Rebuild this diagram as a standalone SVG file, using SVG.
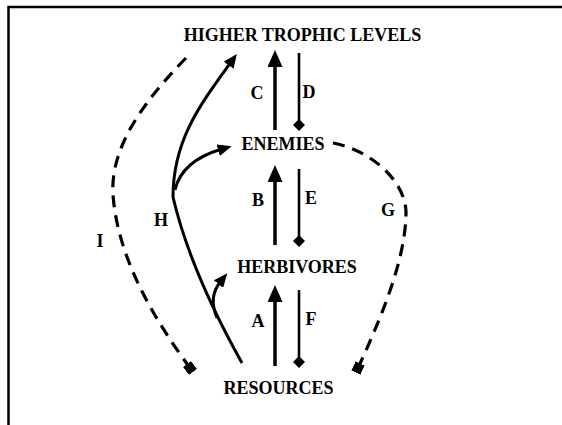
<svg xmlns="http://www.w3.org/2000/svg" width="562" height="425" viewBox="0 0 562 425">
<style>
  text { font-family: "Liberation Serif", "Times New Roman", serif; font-weight: bold; fill: #000; text-anchor: middle; }
  .node { font-size: 18px; }
  .lab { font-size: 18px; }
  .up { stroke: #000; stroke-width: 3.5; fill: none; }
  .down { stroke: #000; stroke-width: 2.6; fill: none; }
  .curve { stroke: #000; stroke-width: 3; fill: none; }
  .dash { stroke: #000; stroke-width: 3.2; fill: none; stroke-dasharray: 12 8; }
  .frame { stroke: #000; stroke-width: 2.5; fill: none; }
</style>
<defs>
  <marker id="arrBig" markerUnits="userSpaceOnUse" viewBox="0 0 17 15" markerWidth="17" markerHeight="15" refX="5" refY="7.5" orient="auto">
    <path d="M0,0 L17,7.5 L0,15 z" fill="#000"/>
  </marker>
  <marker id="arrSm" markerUnits="userSpaceOnUse" viewBox="0 0 14 12" markerWidth="14" markerHeight="12" refX="4" refY="6" orient="auto">
    <path d="M0,0 L14,6 L0,12 z" fill="#000"/>
  </marker>
  <marker id="dia" markerUnits="userSpaceOnUse" viewBox="0 0 12 12" markerWidth="12" markerHeight="12" refX="6" refY="6" orient="auto">
    <path d="M0,6 L6,0 L12,6 L6,12 z" fill="#000"/>
  </marker>
  <marker id="sq" markerUnits="userSpaceOnUse" viewBox="0 0 10 10" markerWidth="10" markerHeight="10" refX="5" refY="5" orient="auto">
    <rect x="0" y="0" width="10" height="10" fill="#000"/>
  </marker>
</defs>
<rect width="562" height="425" fill="#fff"/>
<path class="frame" d="M8.5,425 V7 H562"/>

<g id="higher-trophic-levels"><text class="node" x="302.5" y="41">HIGHER TROPHIC LEVELS</text></g>
<g id="enemies"><text class="node" x="283" y="150">ENEMIES</text></g>
<g id="herbivores"><text class="node" x="297" y="273">HERBIVORES</text></g>
<g id="resources"><text class="node" x="278.5" y="394">RESOURCES</text></g>

<g id="connectors">
  <line class="up" x1="275" y1="130" x2="275" y2="62" marker-end="url(#arrBig)"/>
  <line class="down" x1="299" y1="53" x2="299" y2="125" marker-end="url(#dia)"/>
  <line class="up" x1="275" y1="245" x2="275" y2="177" marker-end="url(#arrBig)"/>
  <line class="down" x1="299" y1="169" x2="299" y2="241" marker-end="url(#dia)"/>
  <line class="up" x1="275" y1="366" x2="275" y2="297" marker-end="url(#arrBig)"/>
  <line class="down" x1="299" y1="290" x2="299" y2="362" marker-end="url(#dia)"/>
  <path class="curve" d="M242,363 Q190,270 173,197 C173,140 200,105 231,62" marker-end="url(#arrSm)"/>
  <path class="curve" d="M175,190 C180,168 198,156 222,149" marker-end="url(#arrSm)"/>
  <path class="curve" d="M217,318 C211,303 212,292 221,281" marker-end="url(#arrSm)"/>
  <path class="dash" d="M186,58 C140,105 110,150 113,195 C118,260 155,320 190,368" marker-end="url(#sq)"/>
  <path class="dash" d="M333,143 C370,150 405,180 406,212 C406,260 380,320 358,368" marker-end="url(#sq)"/>
  <text class="lab" x="257" y="99">C</text>
  <text class="lab" x="309" y="98">D</text>
  <text class="lab" x="258" y="206">B</text>
  <text class="lab" x="311" y="204">E</text>
  <text class="lab" x="388" y="216">G</text>
  <text class="lab" x="161" y="226">H</text>
  <text class="lab" x="100" y="247">I</text>
  <text class="lab" x="258" y="327">A</text>
  <text class="lab" x="311" y="325">F</text>
</g>
</svg>
